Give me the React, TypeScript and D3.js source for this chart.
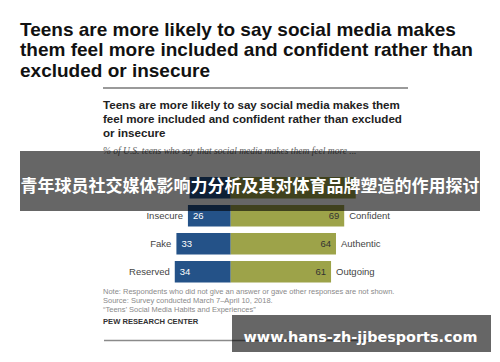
import * as d3 from "d3";

const width = 500;
const height = 362;

const titleLines = [
  "Teens are more likely to say social media makes",
  "them feel more included and confident rather than",
  "excluded or insecure",
];
const chartTitleLines = [
  "Teens are more likely to say social media makes them",
  "feel more included and confident rather than excluded",
  "or insecure",
];
const subtitle = "% of U.S. teens who say that social media makes them feel more ...";
const negLabels = ["Excluded", "Insecure", "Fake", "Reserved"];
const posLabels = ["Included", "Confident", "Authentic", "Outgoing"];
const negValues = [25, 26, 33, 34];
const posValues = [76, 69, 64, 61];
const noteLines = [
  "Note: Respondents who did not give an answer or gave other responses are not shown.",
  "Source: Survey conducted March 7\u2013April 10, 2018.",
  "\u201cTeens\u2019 Social Media Habits and Experiences\u201d",
];
const sourceName = "PEW RESEARCH CENTER";
const bannerText = "青年球员社交媒体影响力分析及其对体育品牌塑造的作用探讨";
const watermark = "www.hans-zh-jjbesports.com";

const blue = "#245288";
const green = "#9da349";

export default function App() {
  const x = d3.scaleLinear().domain([-50, 100]).range([148.45, 395.2]);
  const y = d3
    .scaleBand<number>()
    .domain(d3.range(negLabels.length))
    .range([173.75, 285.75])
    .paddingInner(0.232)
    .paddingOuter(0.116);
  const bw = y.bandwidth();

  return (
    <svg
      width={width}
      height={height}
      style={{ position: "fixed", left: 0, top: 0, background: "#fff" }}
      fontFamily="Liberation Sans, Arial, sans-serif"
    >
      <rect width={width} height={height} fill="#fff" />
      {titleLines.map((line, i) => (
        <text key={i} x={20} y={36 + i * 20.4} fontSize={19} fontWeight="bold" fill="#111">
          {line}
        </text>
      ))}
      <line x1={103} x2={408} y1={88} y2={88} stroke="#9a9a9a" strokeWidth={2} />
      {chartTitleLines.map((line, i) => (
        <text key={i} x={103} y={109 + i * 14} fontSize={11.6} fontWeight="bold" fill="#222">
          {line}
        </text>
      ))}
      <text
        x={103}
        y={154}
        fontSize={9.5}
        fontStyle="italic"
        fontFamily="Liberation Serif, Times New Roman, serif"
        fill="#666"
      >
        {subtitle}
      </text>

      {negValues.map((v, i) => {
        const top = y(i) as number;
        const cy = top + bw / 2;
        // the first row sits under the banner; only its bars show through
        const hidden = i === 0;
        return (
          <g key={i} fontSize={9.5}>
            <rect x={x(-v)} y={top} width={x(0) - x(-v)} height={bw} fill={blue} />
            <rect x={x(0)} y={top} width={x(posValues[i]) - x(0)} height={bw} fill={green} />
            {!hidden && (
              <>
                <text x={x(-v) + 5} y={cy} dy="0.35em" fill="#fff">
                  {v}
                </text>
                <text x={x(posValues[i]) - 5} y={cy} dy="0.35em" textAnchor="end" fill="#333">
                  {posValues[i]}
                </text>
                <text x={x(-v) - 5} y={cy} dy="0.35em" textAnchor="end" fill="#444">
                  {negLabels[i]}
                </text>
                <text x={x(posValues[i]) + 5} y={cy} dy="0.35em" fill="#444">
                  {posLabels[i]}
                </text>
              </>
            )}
          </g>
        );
      })}

      {noteLines.map((line, i) => (
        <text key={i} x={103} y={294 + i * 8.8} fontSize={7.5} fill="#8a8a8a">
          {line}
        </text>
      ))}
      <text x={103} y={323.5} fontSize={7.6} fontWeight="bold" fill="#333">
        {sourceName}
      </text>
      <line x1={104} x2={408} y1={340.5} y2={340.5} stroke="#8a8a8a" strokeWidth={1.5} />

      <rect x={20} y={151} width={460} height={60} fill="rgba(0,0,0,0.6)" />
      <text
        x={250}
        y={186}
        dy="0.35em"
        textAnchor="middle"
        fontSize={17}
        fontWeight="bold"
        fontFamily="Noto Sans CJK SC, sans-serif"
        fill="#fff"
      >
        {bannerText}
      </text>

      <rect x={232} y={315} width={259} height={37} fill="rgba(0,0,0,0.6)" />
      <text
        x={360.5}
        y={337}
        dy="0.35em"
        textAnchor="middle"
        fontSize={14.4}
        fontWeight="bold"
        fontFamily="DejaVu Sans, Verdana, sans-serif"
        fill="#fff"
      >
        {watermark}
      </text>
    </svg>
  );
}
